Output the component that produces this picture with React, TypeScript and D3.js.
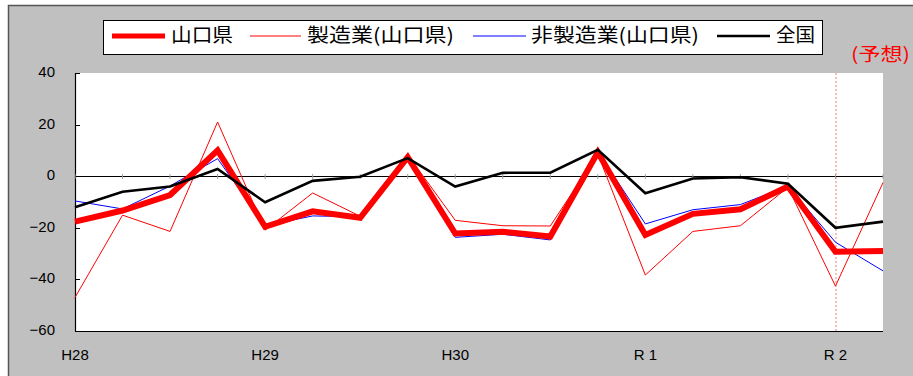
import React from "react";
import * as d3 from "d3";

// Quarterly periods (H28 Q1 .. R2 Q2); only the first quarter of each year is labelled
const periods = ["H28", "", "", "", "H29", "", "", "", "H30", "", "", "", "R 1", "", "", "", "R 2", ""];

// Business survey index (DI)
const yamaguchi = [-17.6, -13.3, -7.3, 10.0, -19.6, -13.6, -16.1, 7.4, -22.2, -21.5, -23.4, 9.3, -22.8, -14.6, -12.8, -4.0, -29.3, -29.0];
const manufacturing = [-47.0, -15.1, -21.4, 21.0, -20.9, -6.5, -15.5, 8.3, -17.1, -19.2, -19.3, 8.6, -38.3, -21.4, -19.2, -4.3, -42.6, -2.5];
const nonManufacturing = [-9.6, -12.7, -3.8, 6.8, -19.2, -15.4, -15.7, 6.3, -23.7, -22.5, -24.7, 9.6, -18.5, -13.0, -11.0, -3.8, -25.6, -36.7];
const national = [-12.0, -6.0, -4.0, 2.8, -10.1, -1.8, -0.2, 7.0, -4.0, 1.3, 1.4, 10.2, -6.6, -0.9, -0.4, -2.9, -20.0, -17.6];

const yTicks = [40, 20, 0, -20, -40, -60];
const forecastIndex = 16;
const forecastLabel = "(予想)";

const seriesNames = ["山口県", "製造業(山口県)", "非製造業(山口県)", "全国"];

const W = 913;
const H = 376;
const plot = { left: 75, right: 883, top: 73, bottom: 331 };

const series = [
  { name: seriesNames[0], values: yamaguchi, color: "#FF0000", width: 6 },
  { name: seriesNames[1], values: manufacturing, color: "#FF0000", width: 1 },
  { name: seriesNames[2], values: nonManufacturing, color: "#0000FF", width: 1 },
  { name: seriesNames[3], values: national, color: "#000000", width: 2.6 },
];
// draw order: thin lines first, then the thick prefecture line, national on top
const drawOrder = [1, 2, 0, 3];

// legend item layout: sample line start/end, text start and text width
const legendLayout = [
  { x0: 112, x1: 165, tx: 171, tw: 62 },
  { x0: 250, x1: 301, tx: 307, tw: 147 },
  { x0: 473, x1: 526, tx: 531, tw: 168 },
  { x0: 717, x1: 770, tx: 776, tw: 39 },
];

const numFont = "'Liberation Sans', Arial, sans-serif";
const jpFont = "'Noto Sans CJK JP', 'Noto Sans', sans-serif";

export default function App() {
  const x = d3
    .scalePoint<number>()
    .domain(d3.range(periods.length))
    .range([plot.left, plot.right])
    .padding(0);
  const y = d3.scaleLinear().domain([-60, 40]).range([plot.bottom, plot.top]);

  const line = (vals: number[]) =>
    d3
      .line<number>()
      .x((_, i) => x(i) as number)
      .y((v) => y(v))(vals) as string;

  const y0 = y(0);

  return (
    <svg
      width={W}
      height={H}
      viewBox={`0 0 ${W} ${H}`}
      style={{ position: "absolute", left: 0, top: 0, display: "block" }}
    >
      <rect x={0} y={0} width={W} height={H} fill="#FFFFFF" />
      {/* chart area */}
      <rect x={8.5} y={5.5} width={W + 20} height={H + 20} fill="#C0C0C0" stroke="#555555" strokeWidth={1.5} />

      {/* legend */}
      <rect x={103.5} y={20.5} width={719} height={34} fill="#FFFFFF" stroke="#000000" strokeWidth={1} />
      {series.map((s, i) => {
        const L = legendLayout[i];
        return (
          <g key={s.name}>
            <line x1={L.x0} x2={L.x1} y1={36} y2={36} stroke={s.color} strokeWidth={s.width === 6 ? 5 : s.width} />
            <text
              x={L.tx}
              y={37}
              dominantBaseline="middle"
              fontFamily={jpFont}
              fontSize={19}
              fill="#000000"
              textLength={L.tw}
              lengthAdjust="spacingAndGlyphs"
            >
              {s.name}
            </text>
          </g>
        );
      })}

      {/* forecast label */}
      <text
        x={851}
        y={56}
        dominantBaseline="middle"
        fontFamily={jpFont}
        fontSize={18}
        fill="#FF0000"
        textLength={59}
        lengthAdjust="spacingAndGlyphs"
      >
        {forecastLabel}
      </text>

      {/* plot area */}
      <rect x={plot.left} y={plot.top} width={plot.right - plot.left} height={plot.bottom - plot.top} fill="#FFFFFF" />

      {/* forecast divider */}
      <line
        x1={(x(forecastIndex) as number) + 0.5}
        x2={(x(forecastIndex) as number) + 0.5}
        y1={plot.top}
        y2={plot.bottom}
        stroke="#F08080"
        strokeWidth={1}
        strokeDasharray="2,2"
      />

      {/* y axis */}
      <line x1={plot.left + 0.5} x2={plot.left + 0.5} y1={plot.top} y2={plot.bottom} stroke="#000000" strokeWidth={1.2} />
      {yTicks.map((t) => (
        <g key={t}>
          <line x1={plot.left} x2={plot.left + 5} y1={Math.round(y(t)) + 0.5} y2={Math.round(y(t)) + 0.5} stroke="#000000" strokeWidth={1} />
          <text
            x={55}
            y={y(t)}
            textAnchor="end"
            dominantBaseline="middle"
            fontFamily={numFont}
            fontSize={15}
            fill="#000000"
          >
            {t < 0 ? `\u2212${Math.abs(t)}` : `${t}`}
          </text>
        </g>
      ))}

      {/* bottom edge */}
      <line x1={plot.left} x2={plot.right} y1={plot.bottom + 0.5} y2={plot.bottom + 0.5} stroke="#000000" strokeWidth={1.2} />

      {/* zero line with category ticks */}
      <line x1={plot.left} x2={plot.right} y1={Math.round(y0) + 0.5} y2={Math.round(y0) + 0.5} stroke="#000000" strokeWidth={1} />
      {periods.map((_, i) => (
        <line
          key={i}
          x1={x(i) as number}
          x2={x(i) as number}
          y1={Math.round(y0) - 2}
          y2={Math.round(y0) + 3}
          stroke="#A0A0A0"
          strokeWidth={1}
        />
      ))}

      {/* x labels */}
      {periods.map((p, i) =>
        p ? (
          <text
            key={i}
            x={x(i) as number}
            y={356}
            textAnchor="middle"
            dominantBaseline="middle"
            fontFamily={numFont}
            fontSize={15}
            fill="#000000"
          >
            {p}
          </text>
        ) : null
      )}

      {/* series */}
      {drawOrder.map((k) => {
        const s = series[k];
        return (
          <path
            key={s.name}
            d={line(s.values)}
            fill="none"
            stroke={s.color}
            strokeWidth={s.width}
            strokeLinejoin="miter"
          />
        );
      })}
    </svg>
  );
}
